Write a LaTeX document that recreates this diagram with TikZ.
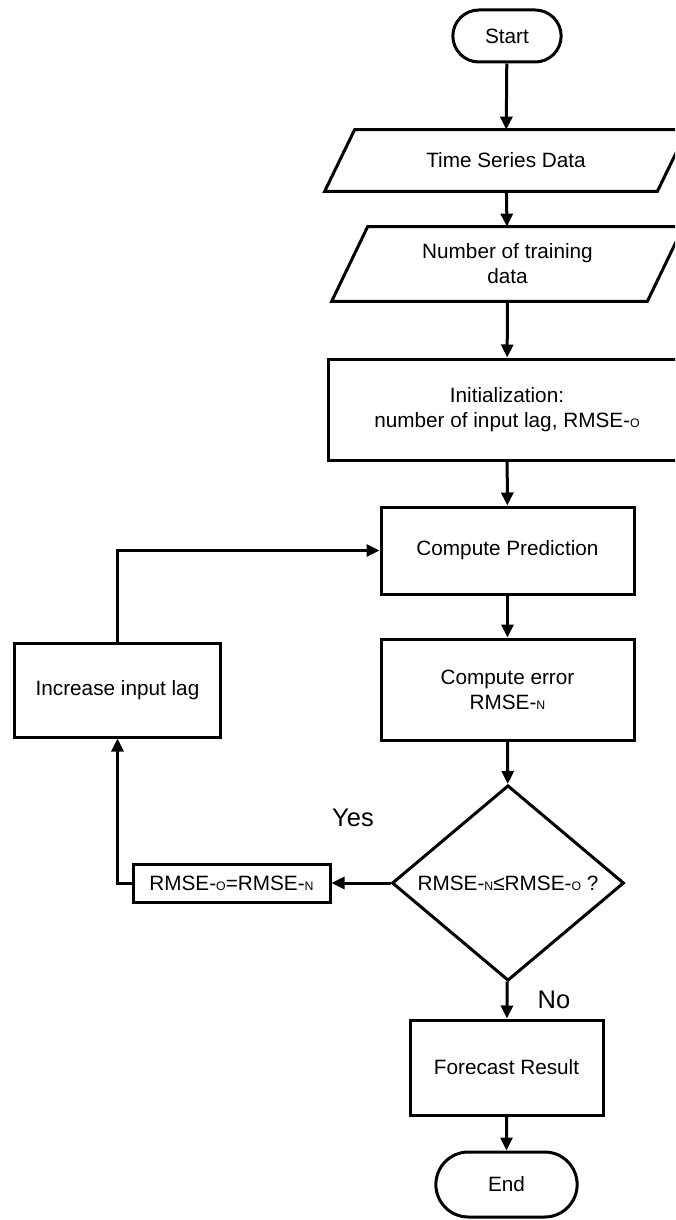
\documentclass[tikz,border=0pt]{standalone}
\usepackage{fontspec}
\setmainfont{Liberation Sans}
\usetikzlibrary{arrows.meta,shapes.geometric,shapes.misc}

\begin{document}
\begin{tikzpicture}[x=0.2mm, y=-0.2mm,
        font=\fontsize{11.8}{14.2}\selectfont,
        box/.style={draw, line width=0.6mm, rectangle, align=center, inner sep=2pt},
        term/.style={draw, line width=0.6mm, rounded rectangle, align=center},
        iobox/.style={rectangle, align=center, inner sep=2pt},
        decide/.style={draw, line width=0.6mm, diamond, inner sep=0pt, align=center},
        answer/.style={font=\fontsize{14.5}{17}\selectfont},
        arr/.style={line width=0.6mm, -{Triangle[length=2.6mm, width=2.4mm]}}]
        \clip (0,0) rectangle (675,1220);

        % Pieces
        \node[term, minimum width=24mm, minimum height=10.4mm] (start) at (507, 36) {Start};
        \node[iobox, minimum width=66.4mm, minimum height=12.2mm] (tsdata) at (506, 160.5) {Time Series Data};
        \node[iobox, minimum width=63mm, minimum height=14.8mm] (ntrain) at (507.5, 264) {Number of training\\data};
        \node[box, minimum width=71.6mm, minimum height=20.2mm] (init) at (507, 409.5) {Initialization:\\number of input lag, RMSE-{\scriptsize O}};
        \node[box, minimum width=50.6mm, minimum height=17.4mm] (pred) at (507.5, 550.5) {Compute Prediction};
        \node[box, minimum width=50.6mm, minimum height=20.2mm] (err) at (507.5, 689.5) {Compute error\\RMSE-{\scriptsize N}};
        \node[decide, minimum width=46.4mm, minimum height=34.2mm] (cond) at (508, 883) {RMSE-{\scriptsize N}≤RMSE-{\scriptsize O} ?};
        \node[box, minimum width=39.4mm, minimum height=7.6mm] (update) at (231.5, 883) {RMSE-{\scriptsize O}=RMSE-{\scriptsize N}};
        \node[box, minimum width=41mm, minimum height=18.8mm] (inclag) at (117.5, 690) {Increase input lag};
        \node[box, minimum width=38.6mm, minimum height=19mm] (result) at (506.5, 1067.5) {Forecast Result};
        \node[term, minimum width=30.6mm, minimum height=13mm] (stop) at (506.5, 1184.5) {End};
        \node[answer] (yes) at (353, 818) {Yes};
        \node[answer] (no) at (554, 1000) {No};

        % Input shapes
        \draw[line width=0.6mm] ([xshift=3mm]tsdata.north west) -- ([xshift=3mm]tsdata.north east)
            -- ([xshift=-3mm]tsdata.south east) -- ([xshift=-3mm]tsdata.south west) -- cycle;
        \draw[line width=0.6mm] ([xshift=3.6mm]ntrain.north west) -- ([xshift=3.6mm]ntrain.north east)
            -- ([xshift=-3.6mm]ntrain.south east) -- ([xshift=-3.6mm]ntrain.south west) -- cycle;

        % Arrows
        \draw[arr] (start) -- (tsdata);
        \draw[arr] (tsdata) -- (ntrain);
        \draw[arr] (ntrain) -- (init);
        \draw[arr] (init) -- (pred);
        \draw[arr] (pred) -- (err);
        \draw[arr] (err) -- (cond);
        \draw[arr] (cond) -- (update);
        \draw[arr] (update.west) -| (inclag.south);
        \draw[arr] (inclag.north) |- (pred.west);
        \draw[arr] (cond) -- (result);
        \draw[arr] (result) -- (stop);
    \end{tikzpicture}
\end{document}
